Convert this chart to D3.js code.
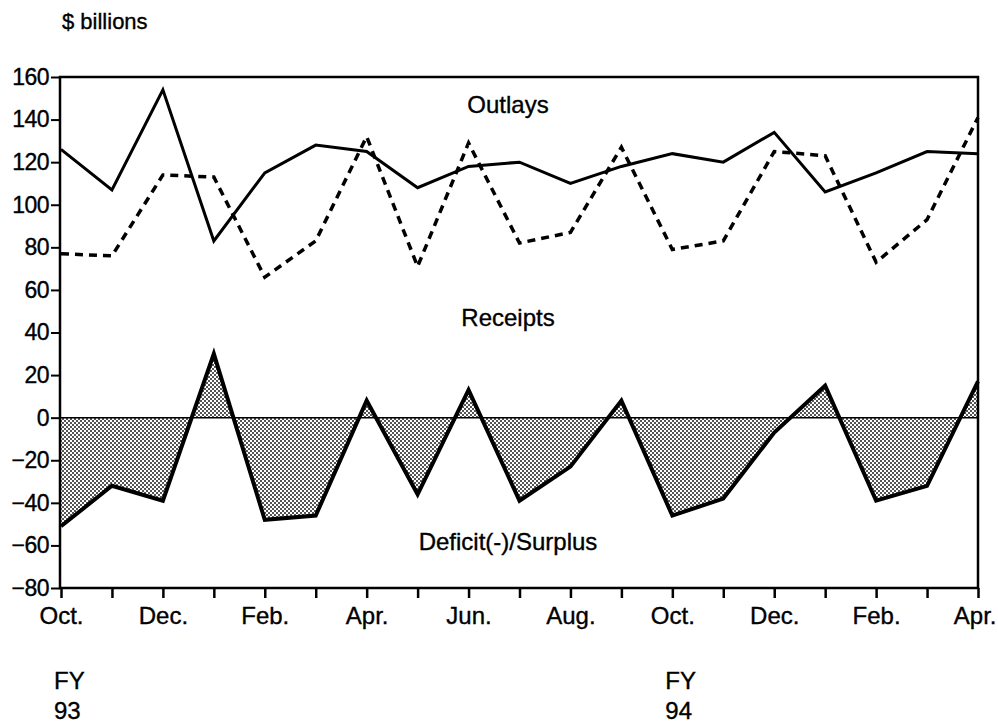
<!DOCTYPE html>
<html lang="en">

<head>
    <meta charset="utf-8">
    <title>Outlays, receipts and deficit</title>
    <script type="text/javascript" src="https://cdn.jsdelivr.net/npm/d3@7"></script>
    <style type="text/css">
        body {
            margin: 0;
            background: #fff;
        }

        text {
            font-family: "Liberation Sans", Arial, sans-serif;
            fill: #000;
            stroke: #000;
            stroke-width: 0.35px;
        }
    </style>
</head>

<body>
    <script type="text/javascript">

        var w = 998;
        var h = 725;

        // Monthly figures, Oct FY93 .. Apr FY94, $ billions
        var months = ["Oct.", "Nov.", "Dec.", "Jan.", "Feb.", "Mar.", "Apr.", "May", "Jun.", "Jul.", "Aug.", "Sep.",
            "Oct.", "Nov.", "Dec.", "Jan.", "Feb.", "Mar.", "Apr."];
        var outlays = [126, 107, 154, 83, 115, 128, 125, 108, 118, 120, 110, 118, 124, 120, 134, 106, 115, 125, 124];
        var receipts = [77, 76, 114, 113, 66, 83, 132, 71, 129, 82, 87, 127, 79, 83, 125, 123, 73, 93, 141];
        var deficit = [-51, -32, -39, 30, -48, -46, 8, -36, 13, -39, -23, 8, -46, -38, -7, 15, -39, -32, 17];
        var yTicks = [160, 140, 120, 100, 80, 60, 40, 20, 0, -20, -40, -60, -80];
        var fyLabels = [{ i: 0, lines: ["FY", "93"] }, { i: 12, lines: ["FY", "94"] }];

        var padL = 60, padR = 978, padT = 77, padB = 588;

        var xScale = d3.scaleLinear()
            .domain([0, months.length - 1])
            .range([padL + 1, padR]);

        var yScale = d3.scaleLinear()
            .domain([-80, 160])
            .range([padB, padT]);

        var svg = d3.select("body")
            .append("svg")
            .attr("width", w)
            .attr("height", h);

        // stipple pattern for the deficit/surplus area
        var pat = svg.append("defs").append("pattern")
            .attr("id", "dots")
            .attr("patternUnits", "userSpaceOnUse")
            .attr("width", 4)
            .attr("height", 4);
        pat.append("rect").attr("width", 4).attr("height", 4).attr("fill", "#fff");
        pat.append("rect").attr("x", 0).attr("y", 0).attr("width", 2).attr("height", 2).attr("fill", "#555");
        pat.append("rect").attr("x", 2).attr("y", 2).attr("width", 2).attr("height", 2).attr("fill", "#555");

        svg.append("text")
            .attr("x", 62)
            .attr("y", 29)
            .attr("font-size", "22px")
            .text("$ billions");

        // y axis
        var yAxis = d3.axisLeft(yScale)
            .tickValues(yTicks)
            .tickSize(9)
            .tickPadding(2)
            .tickFormat(d3.format("d"));

        var gy = svg.append("g")
            .attr("transform", "translate(" + padL + ",0)")
            .call(yAxis);
        gy.select(".domain").remove();
        gy.selectAll("line").attr("stroke", "#000").attr("stroke-width", 2);
        gy.selectAll("text")
            .attr("font-size", "23px")
            .attr("font-family", "Liberation Sans, Arial, sans-serif")
            .style("letter-spacing", "-0.5px");

        // x axis, a tick every month, a label every other month
        var xAxis = d3.axisBottom(xScale)
            .tickValues(d3.range(months.length))
            .tickSize(10)
            .tickPadding(9)
            .tickFormat(function (d) {
                return d % 2 === 0 ? months[d] : "";
            });

        var gx = svg.append("g")
            .attr("transform", "translate(0," + padB + ")")
            .call(xAxis);
        gx.select(".domain").remove();
        gx.selectAll("line").attr("stroke", "#000").attr("stroke-width", 2.5);
        gx.selectAll("text")
            .attr("font-size", "24px")
            .attr("font-family", "Liberation Sans, Arial, sans-serif");
        // keep the last label inside the page
        gx.selectAll(".tick")
            .filter(function (d) { return d === months.length - 1; })
            .select("text")
            .attr("text-anchor", "end")
            .attr("x", w - 2 - xScale(months.length - 1));

        // deficit shading
        var area = d3.area()
            .x(function (d, i) { return xScale(i); })
            .y0(yScale(0))
            .y1(function (d) { return yScale(d); });

        svg.append("path")
            .datum(deficit)
            .attr("d", area)
            .attr("fill", "url(#dots)");

        // zero line
        svg.append("line")
            .attr("x1", padL)
            .attr("x2", padR)
            .attr("y1", yScale(0))
            .attr("y2", yScale(0))
            .attr("stroke", "#000")
            .attr("stroke-width", 1.5);

        var line = d3.line()
            .x(function (d, i) { return xScale(i); })
            .y(function (d) { return yScale(d); });

        svg.append("path")
            .datum(deficit)
            .attr("d", line)
            .attr("fill", "none")
            .attr("stroke", "#000")
            .attr("stroke-width", 4)
            .attr("stroke-linejoin", "miter");

        svg.append("path")
            .datum(receipts)
            .attr("d", line)
            .attr("fill", "none")
            .attr("stroke", "#000")
            .attr("stroke-width", 3.5)
            .attr("stroke-dasharray", "8,6");

        svg.append("path")
            .datum(outlays)
            .attr("d", line)
            .attr("fill", "none")
            .attr("stroke", "#000")
            .attr("stroke-width", 3);

        // frame
        svg.append("rect")
            .attr("x", padL)
            .attr("y", padT)
            .attr("width", padR - padL)
            .attr("height", padB - padT)
            .attr("fill", "none")
            .attr("stroke", "#000")
            .attr("stroke-width", 2.5);

        // series labels
        var labels = [
            { text: "Outlays", v: 143 },
            { text: "Receipts", v: 43 },
            { text: "Deficit(-)/Surplus", v: -62 }
        ];
        svg.selectAll("text.series")
            .data(labels)
            .enter()
            .append("text")
            .attr("class", "series")
            .attr("x", 508)
            .attr("y", function (d) { return yScale(d.v); })
            .attr("text-anchor", "middle")
            .attr("font-size", "24px")
            .text(function (d) { return d.text; });

        // fiscal year labels
        var fy = svg.selectAll("g.fy")
            .data(fyLabels)
            .enter()
            .append("g")
            .attr("class", "fy");
        fy.selectAll("text")
            .data(function (d) {
                return d.lines.map(function (t, k) { return { t: t, k: k, i: d.i }; });
            })
            .enter()
            .append("text")
            .attr("x", function (d) { return xScale(d.i) - 7; })
            .attr("y", function (d) { return 689 + d.k * 30; })
            .attr("font-size", "24px")
            .text(function (d) { return d.t; });

    </script>
</body>

</html>
